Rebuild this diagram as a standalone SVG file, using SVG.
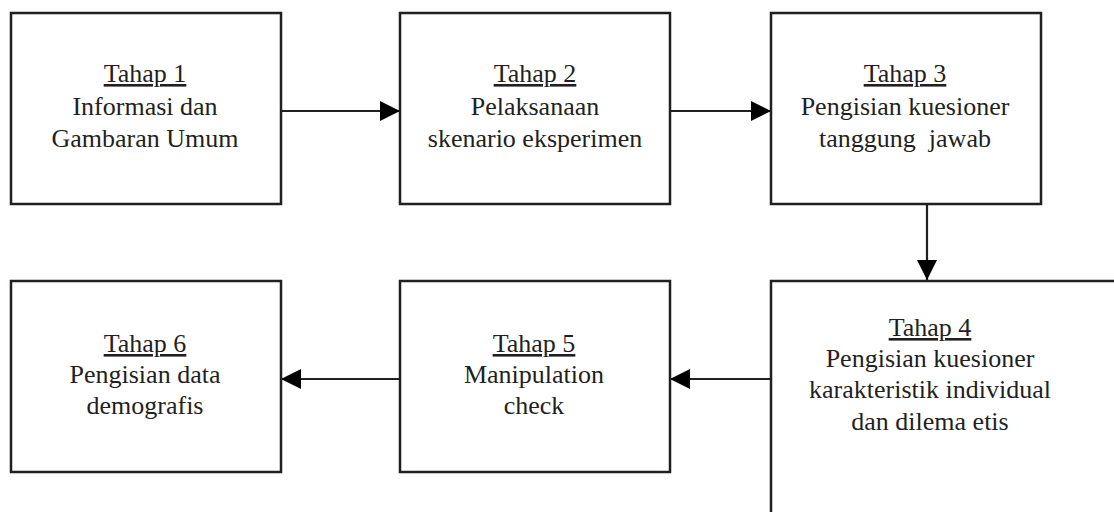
<svg xmlns="http://www.w3.org/2000/svg" width="1114" height="512" viewBox="0 0 1114 512">
<style>
.box{fill:#fff;stroke:#231f20;stroke-width:2.5}
.con{stroke:#231f20;stroke-width:2.2;fill:none}
text{font-family:"Liberation Serif","Times New Roman",serif;font-size:26px;fill:#231f20;text-anchor:middle}
.u{text-decoration:underline}
</style>
<defs>
<marker id="ah" viewBox="0 0 20 20" refX="20" refY="10" markerWidth="20" markerHeight="20" markerUnits="userSpaceOnUse" orient="auto">
<path d="M0,0 L20,10 L0,20 Z" fill="#000"/>
</marker>
</defs>
<rect width="1114" height="512" fill="#fff"/>
<g id="connectors">
<line class="con" x1="281" y1="111" x2="400" y2="111" marker-end="url(#ah)"/>
<line class="con" x1="670" y1="111" x2="771" y2="111" marker-end="url(#ah)"/>
<line class="con" x1="927" y1="204" x2="927" y2="280" marker-end="url(#ah)"/>
<line class="con" x1="771" y1="379" x2="670" y2="379" marker-end="url(#ah)"/>
<line class="con" x1="400" y1="379" x2="281" y2="379" marker-end="url(#ah)"/>
</g>
<g id="node1">
<rect class="box" x="11" y="13" width="270" height="191"/>
<text x="145" y="82" class="u">Tahap 1</text>
<text x="145" y="115">Informasi dan</text>
<text x="145" y="147">Gambaran Umum</text>
</g>
<g id="node2">
<rect class="box" x="400" y="13" width="270" height="191"/>
<text x="535" y="82" class="u">Tahap 2</text>
<text x="535" y="115">Pelaksanaan</text>
<text x="535" y="147">skenario eksperimen</text>
</g>
<g id="node3">
<rect class="box" x="771" y="13" width="270" height="191"/>
<text x="905" y="82" class="u">Tahap 3</text>
<text x="905" y="115">Pengisian kuesioner</text>
<text x="905" y="147" xml:space="preserve">tanggung  jawab</text>
</g>
<g id="node4">
<rect class="box" x="771" y="281" width="400" height="300"/>
<text x="930" y="336" class="u">Tahap 4</text>
<text x="930" y="367">Pengisian kuesioner</text>
<text x="930" y="398">karakteristik individual</text>
<text x="930" y="430">dan dilema etis</text>
</g>
<g id="node5">
<rect class="box" x="400" y="281" width="270" height="191"/>
<text x="534" y="352" class="u">Tahap 5</text>
<text x="534" y="383">Manipulation</text>
<text x="534" y="414">check</text>
</g>
<g id="node6">
<rect class="box" x="11" y="281" width="270" height="191"/>
<text x="145" y="352" class="u">Tahap 6</text>
<text x="145" y="383">Pengisian data</text>
<text x="145" y="414">demografis</text>
</g>
</svg>
